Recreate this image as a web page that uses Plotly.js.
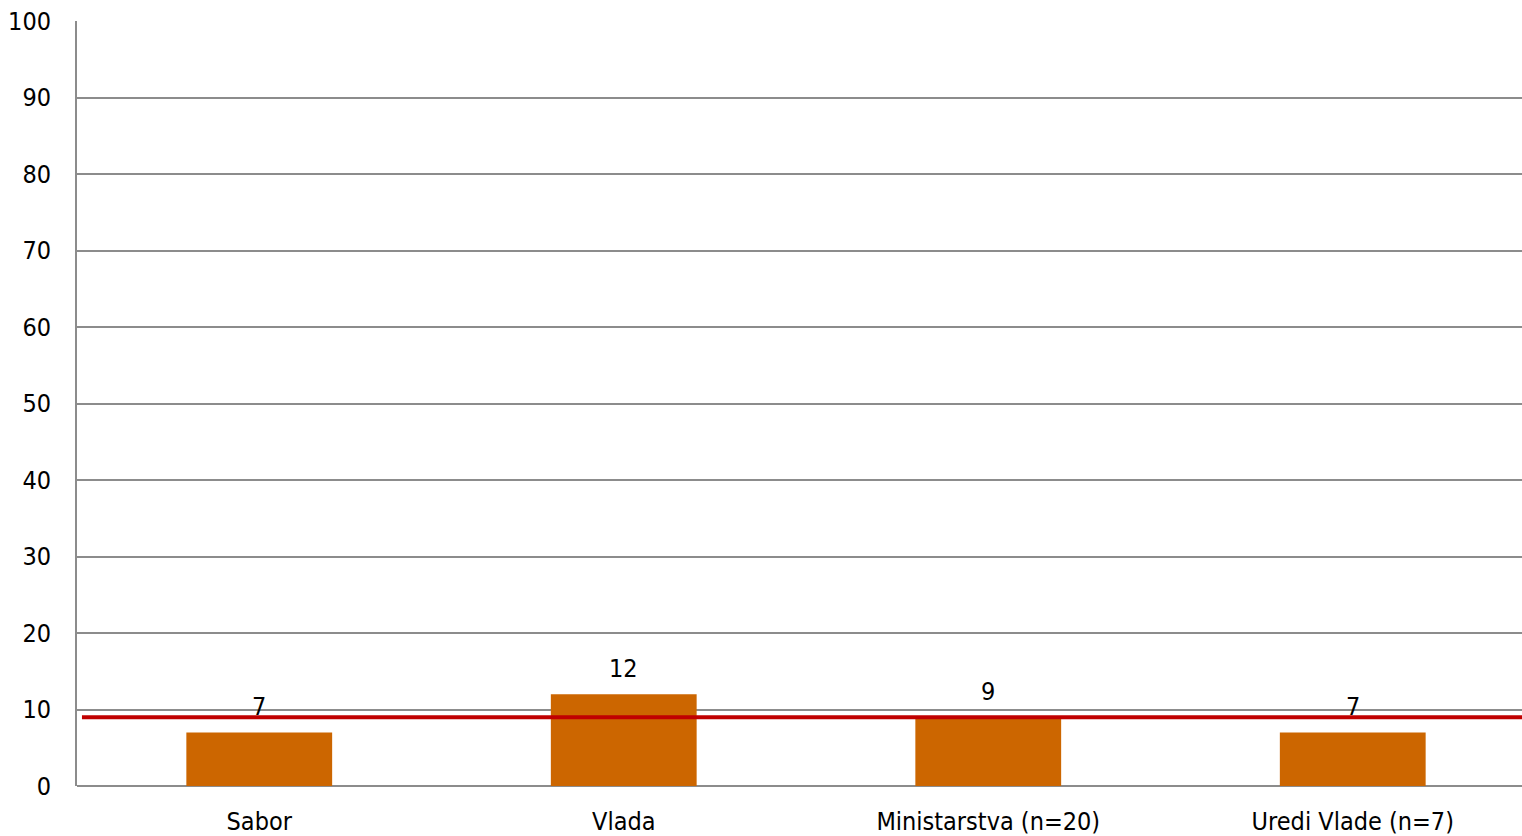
<!DOCTYPE html>
<html><head><meta charset="utf-8">
<script src="https://cdn.plot.ly/plotly-3.0.1.min.js"></script>
<style>html,body{margin:0;padding:0;background:#fff;overflow:hidden}#c{width:1535px;height:836px}</style>
</head><body><div id="c"></div>
<script>
var categories = ["Sabor", "Vlada", "Ministarstva (n=20)", "Uredi Vlade (n=7)"];
var values = [7, 12, 9, 7];
var averageValue = [9];
var yTicks = [0, 10, 20, 30, 40, 50, 60, 70, 80, 90, 100];

var font = {family: "DejaVu Sans Condensed, Tahoma, sans-serif", size: 25, color: "#000"};
var trace = {
  type: "bar", x: categories, y: values,
  marker: {color: "#CC6600"}, hoverinfo: "none"
};
var annotations = categories.map(function (c, i) {
  return {x: c, y: values[i], xref: "x", yref: "y", text: String(values[i]),
    showarrow: false, yanchor: "bottom", yshift: 9, font: font};
});
var layout = {
  width: 1535, height: 836,
  margin: {l: 77, r: 0, t: 21, b: 50},
  paper_bgcolor: "#fff", plot_bgcolor: "#fff",
  showlegend: false, bargap: 0.6,
  font: font,
  xaxis: {type: "category", showgrid: false, showline: false, ticks: "", tickfont: font, ticklabelstandoff: 18},
  yaxis: {range: [0, 100], tickvals: yTicks, ticktext: yTicks.map(String),
    showgrid: true, gridcolor: "#8c8c8c", gridwidth: 2,
    zeroline: true, zerolinecolor: "#8c8c8c", zerolinewidth: 2,
    showline: true, linecolor: "#8c8c8c", linewidth: 2,
    ticks: "", tickfont: font, ticklabelstandoff: 19},
  annotations: annotations,
  shapes: [{type: "line", xref: "paper", yref: "y", x0: 0.0034, x1: 1,
    y0: averageValue[0], y1: averageValue[0], line: {color: "#C00000", width: 4}}]
};
Plotly.newPlot("c", [trace], layout, {displayModeBar: false, staticPlot: true});
</script></body></html>
